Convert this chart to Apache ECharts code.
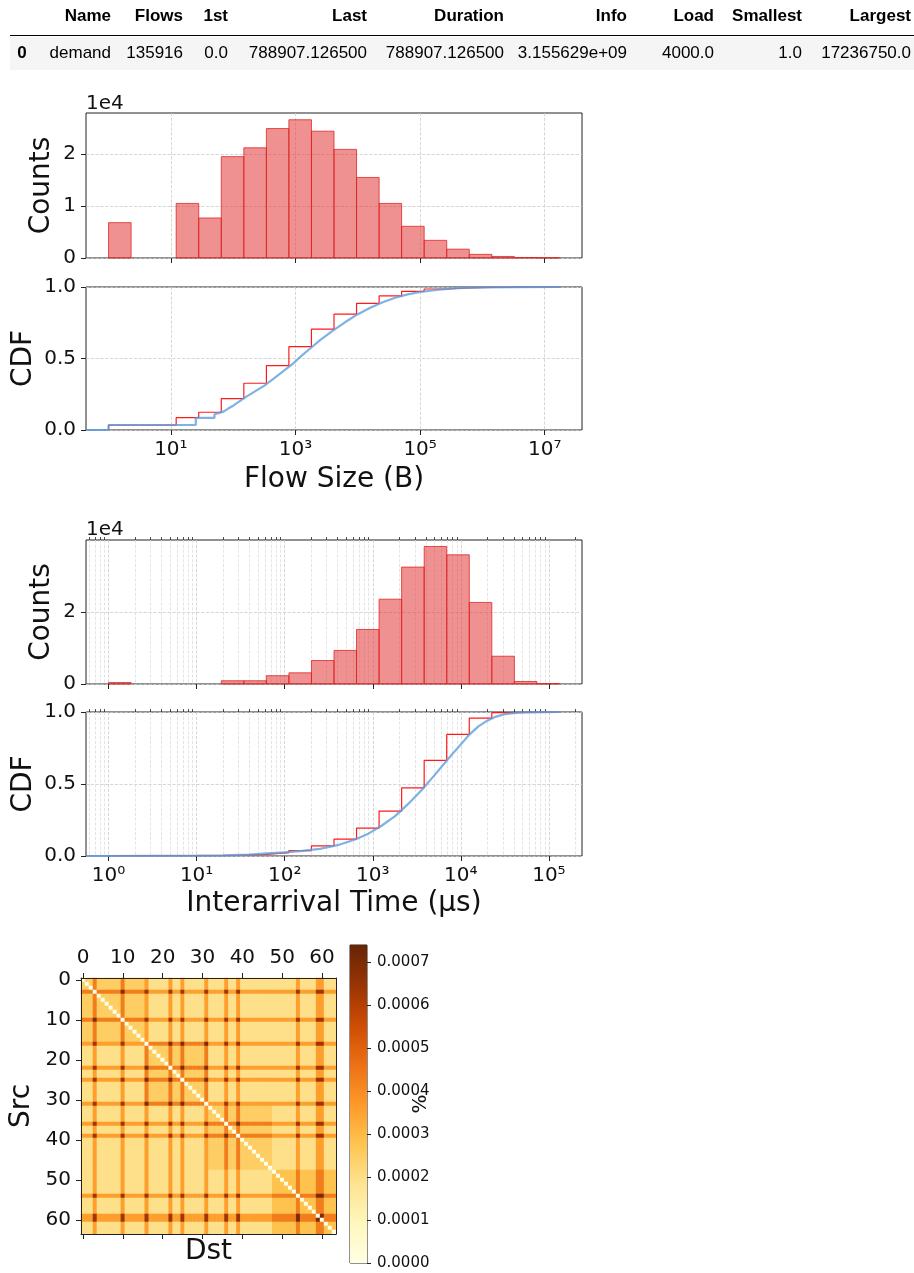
<!DOCTYPE html>
<html><head><meta charset="utf-8">
<script src="https://cdn.jsdelivr.net/npm/echarts@6/dist/echarts.min.js"></script>
<style>html,body{margin:0;padding:0;background:#fff}#c{width:914px;height:1273px}</style>
</head><body><div id="c"></div>
<script>
// ---------------- data ----------------
const tableColumns = ['Name','Flows','1st','Last','Duration','Info','Load','Smallest','Largest'];
const tableRowIndex = '0';
const tableRow = ['demand','135916','0.0','788907.126500','788907.126500','3.155629e+09','4000.0','1.0','17236750.0'];

// Flow size histogram (bin edges as log10 of bytes)
const flowSizeBinEdgesExp = [0,0.362,0.724,1.085,1.447,1.809,2.171,2.533,2.894,3.256,3.618,3.980,4.342,4.703,5.065,5.427,5.789,6.151,6.512,6.874,7.236];
const flowSizeCounts = [6800,0,0,10500,7700,19500,21200,24900,26600,24400,20900,15500,10500,6100,3400,1700,700,300,100,50];
const flowSizeBinCdf = [0.034,0.034,0.034,0.086,0.124,0.220,0.327,0.450,0.583,0.705,0.810,0.886,0.938,0.969,0.986,0.994,0.998,0.999,1.0,1.0];
const flowSizeEcdfPoints = [[-0.362,0],[0,0],[0,0.035],[1.40,0.035],[1.40,0.085],[1.70,0.085],[1.70,0.11],[1.78,0.12],[1.85,0.13],[1.92,0.15],[2.0,0.17],[2.1,0.2],[2.2,0.23],[2.35,0.27],[2.5,0.31],[2.65,0.36],[2.8,0.41],[2.95,0.46],[3.1,0.52],[3.25,0.575],[3.4,0.63],[3.6,0.695],[3.8,0.755],[4.0,0.81],[4.2,0.855],[4.4,0.893],[4.6,0.925],[4.8,0.948],[5.0,0.965],[5.3,0.982],[5.6,0.992],[6.0,0.997],[6.5,0.999],[7.236,1.0]];
const flowSizeTickExps = [1,3,5,7];
const flowSizeExtentExp = [-0.362, 7.598];

// Interarrival time histogram (bin edges as log10 of µs)
const iatBinEdgesExp = [0,0.256,0.512,0.768,1.024,1.28,1.536,1.792,2.048,2.304,2.56,2.816,3.072,3.328,3.584,3.84,4.096,4.352,4.608,4.864,5.12];
const iatCounts = [400,0,0,0,0,900,900,2300,3100,6500,9300,15100,23500,32400,38100,35800,22600,7700,700,100];
const iatBinCdf = [0.002,0.002,0.002,0.002,0.002,0.0065,0.011,0.023,0.038,0.071,0.117,0.193,0.311,0.473,0.664,0.844,0.957,0.996,0.9995,1.0];
const iatEcdfPoints = [[-0.256,0],[0,0],[1.0,0.002],[1.3,0.004],[1.6,0.01],[1.8,0.018],[2.0,0.025],[2.2,0.035],[2.4,0.05],[2.6,0.075],[2.8,0.115],[2.95,0.155],[3.1,0.21],[3.25,0.275],[3.4,0.36],[3.55,0.455],[3.7,0.56],[3.85,0.67],[4.0,0.775],[4.1,0.845],[4.2,0.9],[4.3,0.94],[4.4,0.968],[4.5,0.985],[4.65,0.995],[4.9,0.999],[5.12,1.0]];
const iatTickExps = [0,1,2,3,4,5];
const iatMinorMultipliers = [2,3,4,5,6,7,8,9];
const iatExtentExp = [-0.256, 5.376];

// Traffic matrix (Src x Dst), read as levels
const nodeCount = 64;
const groupSize = 16;
const hotNodes = [3,10,16,22,25,31,36,39,54,59,60];
const crossGroupLevel = {coldCold:0.000195, hotCold:0.00036, hotHot:0.00064};
const sameGroupColdLevel = [0.00025,0.00025,0.00025,0.00028];
const sameGroupHotLevel = {hotCold:0.00043, hotHot:0.00070};
const diagonalLevel = 0;
const colorbarMax = 0.00074;
const colorbarTicks = [0,0.0001,0.0002,0.0003,0.0004,0.0005,0.0006,0.0007];
const heatColors = ['#ffffe5','#fff7bc','#fee391','#fec44f','#fe9929','#ec7014','#cc4c02','#993404','#662506'];

// ---------------- build ----------------
const FONT = 'DejaVu Sans';
const SUP = {'0':'⁰','1':'¹','2':'²','3':'³','4':'⁴','5':'⁵','6':'⁶','7':'⁷','8':'⁸','9':'⁹','-':'⁻'};
const pow10Label = v => '10' + String(Math.round(v)).split('').map(c => SUP[c]).join('');

const iatMinorTicks = [];
for (let n = -1; n <= 5; n++) {
  iatMinorMultipliers.forEach(k => {
    const e = n + Math.log10(k);
    if (e > iatExtentExp[0] && e < iatExtentExp[1]) iatMinorTicks.push(e);
  });
}

const nodes = [];
for (let i = 0; i < nodeCount; i++) nodes.push(String(i));
const heatData = [];
for (let s = 0; s < nodeCount; s++) {
  for (let d = 0; d < nodeCount; d++) {
    let v;
    if (s === d) v = diagonalLevel;
    else {
      const hs = hotNodes.includes(s), hd = hotNodes.includes(d);
      const type = hs && hd ? 'hotHot' : (hs || hd ? 'hotCold' : 'coldCold');
      const gs = Math.floor(s / groupSize), gd = Math.floor(d / groupSize);
      if (gs === gd) v = type === 'coldCold' ? sameGroupColdLevel[gs] : sameGroupHotLevel[type];
      else v = crossGroupLevel[type];
    }
    heatData.push([d, s, v]);
  }
}

const stepData = (edges, cdf) => {
  const pts = [[edges[0], 0]];
  cdf.forEach((c, i) => pts.push([edges[i], c]));
  pts.push([edges[edges.length - 1], cdf[cdf.length - 1]]);
  return pts;
};
const histData = (edges, counts) => counts.map((c, i) => [edges[i], edges[i + 1], c]).filter(d => d[2] > 0);

const TXT = '#111', AX = '#222';
const gridBox = {show:true, borderColor:AX, borderWidth:1, backgroundColor:'transparent'};
const majorGrid = {show:true, lineStyle:{type:'dashed', color:'#cccccc', width:0.8}};
const minorGrid = {show:true, lineStyle:{type:'dashed', color:'#dddddd', width:0.8}};
const noLine = {show:false, onZero:false};
const nameFont = {fontSize:28, color:TXT, fontFamily:FONT};

function logXAxis(gridIndex, ext, ticks, showLabels, name, nameGap) {
  return {type:'value', gridIndex, min:ext[0], max:ext[1],
    axisLine:noLine,
    axisTick:{show:true, customValues:ticks, length:5, lineStyle:{color:AX, width:1}},
    axisLabel:{show:showLabels, customValues:ticks, formatter:pow10Label, fontSize:20, color:TXT, margin:10, fontFamily:FONT},
    splitLine:majorGrid,
    name:name || '', nameLocation:'middle', nameGap:nameGap || 0, nameMoveOverlap:false,
    nameTextStyle:nameFont};
}
function minorXAxis(gridIndex, ext, ticks) {
  return {type:'value', gridIndex, min:ext[0], max:ext[1],
    axisLine:noLine,
    axisTick:{show:true, customValues:ticks, length:3, lineStyle:{color:AX, width:0.8}},
    axisLabel:{show:false}, splitLine:minorGrid};
}
function countsYAxis(gridIndex, max, ticks) {
  return {type:'value', gridIndex, min:0, max,
    axisLine:noLine,
    axisTick:{show:true, customValues:ticks, length:5, lineStyle:{color:AX}},
    axisLabel:{customValues:ticks, formatter:v => String(Math.round(v / 10000)), fontSize:20, color:TXT, margin:10, fontFamily:FONT},
    splitLine:majorGrid,
    name:'Counts', nameLocation:'middle', nameGap:30, nameMoveOverlap:false, nameTextStyle:nameFont};
}
function cdfYAxis(gridIndex) {
  const t = [0, 0.5, 1];
  return {type:'value', gridIndex, min:0, max:1,
    axisLine:noLine,
    axisTick:{show:true, customValues:t, length:5, lineStyle:{color:AX}},
    axisLabel:{customValues:t, formatter:v => v.toFixed(1), fontSize:20, color:TXT, margin:10, fontFamily:FONT},
    splitLine:majorGrid,
    name:'CDF', nameLocation:'middle', nameGap:48, nameMoveOverlap:false, nameTextStyle:nameFont};
}
function histSeries(xi, yi, data) {
  return {type:'custom', xAxisIndex:xi, yAxisIndex:yi, data, encode:{x:[0,1], y:2},
    renderItem(params, api) {
      const p0 = api.coord([api.value(0), api.value(2)]);
      const p1 = api.coord([api.value(1), 0]);
      return {type:'rect', shape:{x:p0[0], y:p0[1], width:p1[0]-p0[0], height:p1[1]-p0[1]},
        style:{fill:'rgba(226,55,55,0.55)', stroke:'rgba(220,30,30,0.75)', lineWidth:1}};
    }};
}
const redLine = (xi, yi, data) => ({type:'line', xAxisIndex:xi, yAxisIndex:yi, data, step:'end', symbol:'none',
  lineStyle:{color:'#ff1a1a', width:1.2}, z:3});
const blueLine = (xi, yi, data) => ({type:'line', xAxisIndex:xi, yAxisIndex:yi, data, symbol:'none',
  lineStyle:{color:'rgba(95,158,220,0.8)', width:2.2}, z:4});

const catAxisCommon = {type:'category', data:nodes, gridIndex:4, z:10,
  axisLine:{show:true, onZero:false, lineStyle:{color:AX, width:1}},
  axisTick:{show:true, interval:9, alignWithLabel:true, length:5, lineStyle:{color:AX}},
  splitLine:{show:false}};

// table graphics
const tableColRight = [111,183,228,367,504,627,714,802,911];
const graphics = [
  {type:'rect', shape:{x:10, y:37, width:904, height:33}, style:{fill:'#f5f5f5'}, z:0},
  {type:'line', shape:{x1:10, y1:35.5, x2:914, y2:35.5}, style:{stroke:'#000', lineWidth:1.2}},
  {type:'text', x:22, y:53, style:{text:tableRowIndex, fontSize:17, fontWeight:'bold', fontFamily:'Liberation Sans', fill:'#000', align:'center', verticalAlign:'middle'}},
  {type:'text', x:86, y:104, style:{text:'1e4', fontSize:20, fontFamily:FONT, fill:TXT, align:'left', verticalAlign:'middle'}},
  {type:'text', x:86, y:530, style:{text:'1e4', fontSize:20, fontFamily:FONT, fill:TXT, align:'left', verticalAlign:'middle'}}
];
tableColumns.forEach((c, i) => {
  graphics.push({type:'text', x:tableColRight[i], y:16, style:{text:c, fontSize:17, fontWeight:'bold', fontFamily:'Liberation Sans', fill:'#000', align:'right', verticalAlign:'middle'}});
  graphics.push({type:'text', x:tableColRight[i], y:53, style:{text:tableRow[i], fontSize:17, fontFamily:'Liberation Sans', fill:'#000', align:'right', verticalAlign:'middle'}});
});

const option = {
  animation:false,
  textStyle:{fontFamily:FONT},
  grid:[
    Object.assign({left:86, top:113, width:496, height:145}, gridBox),
    Object.assign({left:86, top:287, width:496, height:143}, gridBox),
    Object.assign({left:86, top:540, width:496, height:144}, gridBox),
    Object.assign({left:86, top:712, width:496, height:144}, gridBox),
    {left:81, top:978, width:255, height:256, show:false},
    Object.assign({left:350, top:945, width:17, height:318}, gridBox)
  ],
  xAxis:[
    logXAxis(0, flowSizeExtentExp, flowSizeTickExps, false),
    logXAxis(1, flowSizeExtentExp, flowSizeTickExps, true, 'Flow Size (B)', 36),
    logXAxis(2, iatExtentExp, iatTickExps, false),
    minorXAxis(2, iatExtentExp, iatMinorTicks),
    logXAxis(3, iatExtentExp, iatTickExps, true, 'Interarrival Time (µs)', 34),
    minorXAxis(3, iatExtentExp, iatMinorTicks),
    Object.assign({}, catAxisCommon, {position:'top',
      axisLabel:{interval:9, fontSize:20, color:TXT, margin:10, fontFamily:FONT}}),
    Object.assign({}, catAxisCommon, {position:'bottom', axisLabel:{show:false},
      name:'Dst', nameLocation:'middle', nameGap:4, nameMoveOverlap:false,
      nameTextStyle:Object.assign({verticalAlign:'top'}, nameFont)}),
    {type:'category', gridIndex:5, data:['cb'], show:false}
  ],
  yAxis:[
    countsYAxis(0, 27900, [0,10000,20000]),
    cdfYAxis(1),
    countsYAxis(2, 39900, [0,20000]),
    cdfYAxis(3),
    Object.assign({}, catAxisCommon, {inverse:true, position:'left',
      axisLabel:{interval:9, fontSize:20, color:TXT, margin:10, fontFamily:FONT},
      name:'Src', nameLocation:'middle', nameGap:45, nameMoveOverlap:false, nameTextStyle:nameFont}),
    {type:'value', gridIndex:5, position:'right', min:0, max:colorbarMax,
      axisLine:noLine,
      axisTick:{show:true, customValues:colorbarTicks, length:4, lineStyle:{color:AX}},
      axisLabel:{customValues:colorbarTicks, formatter:v => v.toFixed(4), fontSize:15, color:TXT, margin:10, fontFamily:FONT},
      splitLine:{show:false},
      name:'%', nameLocation:'middle', nameGap:44, nameMoveOverlap:false,
      nameTextStyle:{fontSize:20, color:TXT, fontFamily:FONT}},
    Object.assign({}, catAxisCommon, {inverse:true, position:'right', axisTick:{show:false}, axisLabel:{show:false}})
  ],
  visualMap:{type:'continuous', show:false, min:0, max:colorbarMax, dimension:2, seriesIndex:6,
    inRange:{color:heatColors}},
  series:[
    histSeries(0, 0, histData(flowSizeBinEdgesExp, flowSizeCounts)),
    redLine(1, 1, stepData(flowSizeBinEdgesExp, flowSizeBinCdf)),
    blueLine(1, 1, flowSizeEcdfPoints),
    histSeries(2, 2, histData(iatBinEdgesExp, iatCounts)),
    redLine(4, 3, stepData(iatBinEdgesExp, iatBinCdf)),
    blueLine(4, 3, iatEcdfPoints),
    {type:'heatmap', xAxisIndex:6, yAxisIndex:4, data:heatData, progressive:0, itemStyle:{borderWidth:0}},
    {type:'bar', xAxisIndex:8, yAxisIndex:5, data:[colorbarMax], barWidth:'100%', silent:true,
      itemStyle:{color:new echarts.graphic.LinearGradient(0, 1, 0, 0,
        heatColors.map((c, i) => ({offset:i / (heatColors.length - 1), color:c})))}}
  ],
  graphic:graphics
};
const chart = echarts.init(document.getElementById('c'), null, {renderer:'canvas'});
chart.setOption(option);
</script></body></html>
